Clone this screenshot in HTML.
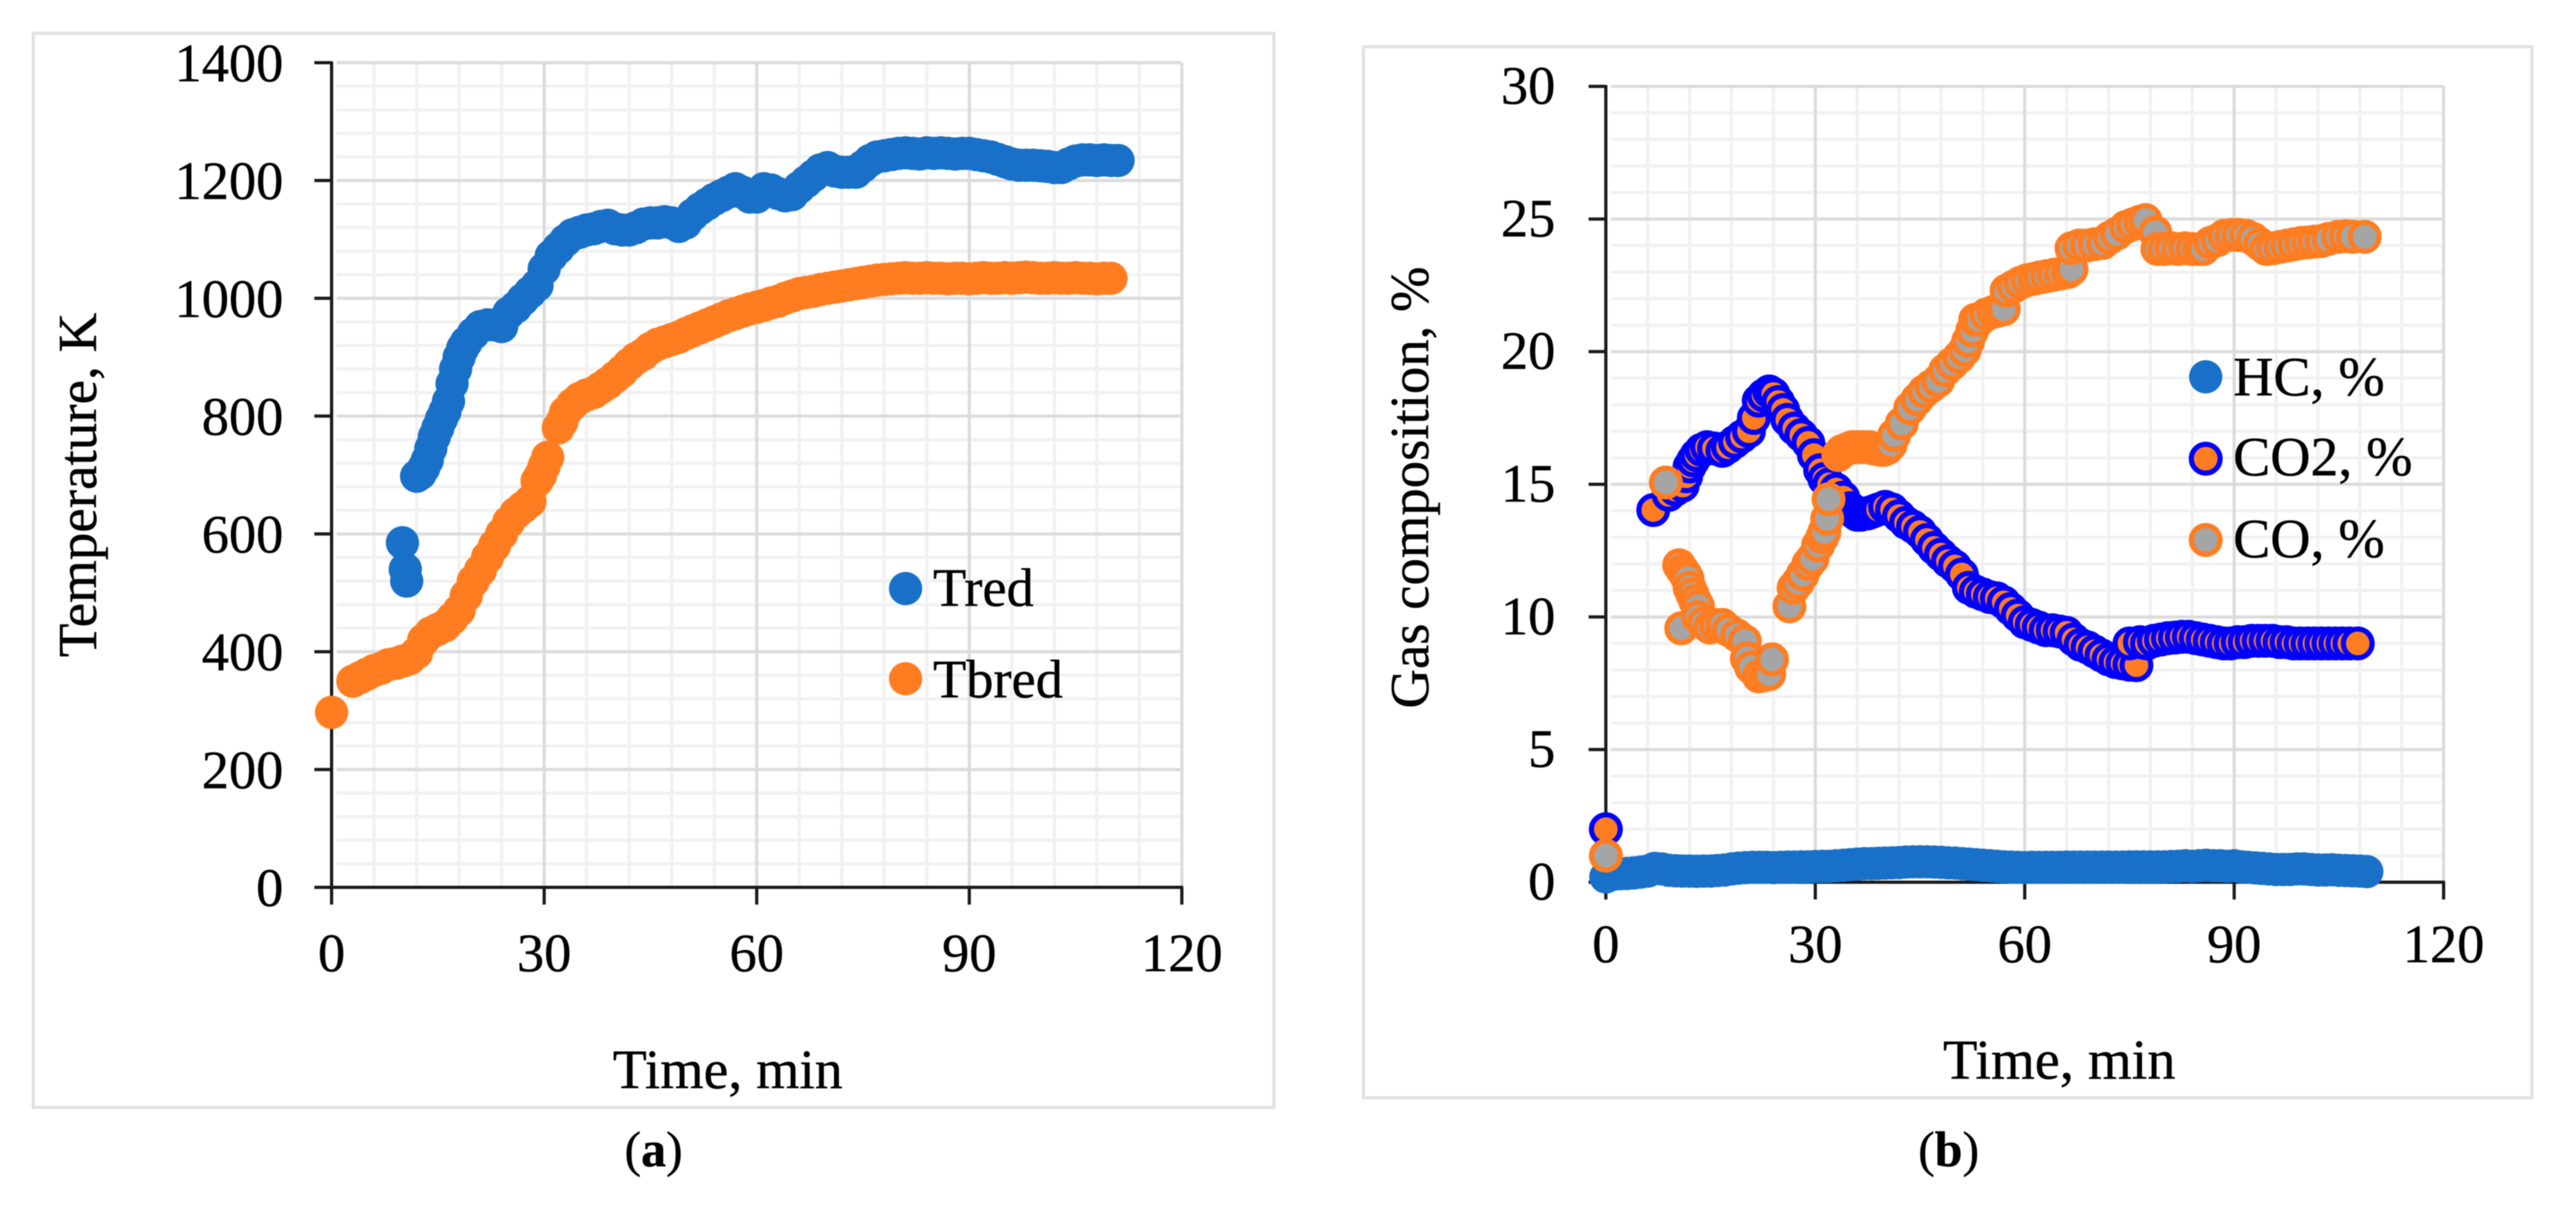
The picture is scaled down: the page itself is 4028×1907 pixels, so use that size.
<!DOCTYPE html>
<html lang="en">
<head>
<meta charset="utf-8">
<title>Temperature and gas composition over time</title>
<style>
html,body{margin:0;padding:0;background:#fff;width:4028px;height:1907px;overflow:hidden}
svg{display:block;font-family:"Liberation Serif",serif;fill:#000;filter:blur(0.9px)}
text{stroke:#000;stroke-width:.6px}
</style>
</head>
<body>
<svg id="fig" xmlns="http://www.w3.org/2000/svg" width="4028" height="1907" viewBox="0 0 4028 1907">
  <rect x="0" y="0" width="4028" height="1907" fill="#ffffff"/>
  <g id="chartA">
    <rect x="52" y="52" width="1940" height="1679" fill="#ffffff" stroke="#e2e2e2" stroke-width="5"/>
    <g id="gridA"></g>
    <g id="axesA"></g>
    <g id="marksA"></g>
    <text transform="translate(150,758) rotate(-90)" text-anchor="middle" font-size="86">Temperature, K</text>
    <text x="1138" y="1701" text-anchor="middle" font-size="87">Time, min</text>
    <g>
      <circle cx="1416" cy="920" r="26" fill="#1870c8"/>
      <text x="1459" y="947" font-size="85">Tred</text>
    </g>
    <g>
      <circle cx="1416" cy="1061" r="26" fill="#ff7d20"/>
      <text x="1459" y="1090" font-size="85">Tbred</text>
    </g>
    <text x="1022" y="1823" text-anchor="middle" font-size="78">(<tspan font-weight="bold">a</tspan>)</text>
  </g>
  <g id="chartB">
    <rect x="2132" y="73" width="1827" height="1643" fill="#ffffff" stroke="#e2e2e2" stroke-width="5"/>
    <g id="gridB"></g>
    <g id="axesB"></g>
    <g id="marksB"></g>
    <text transform="translate(2233,762) rotate(-90)" text-anchor="middle" font-size="85.5">Gas composition, %</text>
    <text x="3220" y="1686" text-anchor="middle" font-size="88">Time, min</text>
    <g>
      <circle cx="3449" cy="589" r="26" fill="#1870c8"/>
      <text x="3492" y="618" font-size="87">HC, %</text>
    </g>
    <g>
      <circle cx="3449" cy="717" r="22.5" fill="#ff7d20" stroke="#0000ff" stroke-width="8"/>
      <text x="3492" y="743" font-size="87">CO2, %</text>
    </g>
    <g>
      <circle cx="3449" cy="844" r="22.5" fill="#a5a5a5" stroke="#ff7d20" stroke-width="8"/>
      <text x="3492" y="871" font-size="87">CO, %</text>
    </g>
    <text x="3047" y="1823" text-anchor="middle" font-size="78">(<tspan font-weight="bold">b</tspan>)</text>
  </g>
</svg>
<script>
/* ---------- chart (a) data ---------- */
const timeTicksA = [0, 30, 60, 90, 120];
const tempTicks = [0, 200, 400, 600, 800, 1000, 1200, 1400];
const tredTime = [10,10.4,10.6,12,12.5,13,13.5,14,14.5,15,15.5,16,16.5,17,17.5,18,18.5,19,20,21,22,23,24,25,26,27,28,29,30,31,32,33,34,35,36,37,38,39,40,41,42,43,44,45,46,47,48,49,50,51,52,53,54,55,56,57,58,59,60,61,62,63,64,65,66,67,68,69,70,71,72,73,74,75,76,77,78,79,80,81,82,83,84,85,86,87,88,89,90,91,92,93,94,95,96,97,98,99,100,101,102,103,104,105,106,107,108,109,110,111];
const tredValues = [585,540,520,698,702,712,725,745,765,780,795,808,825,855,880,900,915,925,940,952,955,955,952,975,985,998,1010,1022,1050,1072,1085,1098,1108,1112,1116,1118,1122,1124,1118,1116,1116,1120,1126,1128,1128,1130,1128,1122,1128,1142,1152,1160,1168,1174,1180,1186,1180,1172,1172,1186,1184,1178,1174,1176,1188,1198,1208,1218,1222,1216,1214,1214,1214,1224,1234,1240,1242,1244,1246,1247,1246,1245,1247,1246,1247,1246,1245,1246,1246,1244,1242,1240,1236,1232,1228,1226,1226,1226,1225,1224,1222,1222,1228,1233,1235,1235,1234,1235,1234,1234];
const tbredTime = [0,3,4,5,6,7,8,9,10,11,12,13,14,15,16,17,18,19,20,21,22,23,24,25,26,27,28,29,29.5,30,30.5,32,32.5,33,34,35,36,37,38,39,40,41,42,43,44,45,46,47,48,49,50,51,52,53,54,55,56,57,58,59,60,61,62,63,64,65,66,67,68,69,70,71,72,73,74,75,76,77,78,79,80,81,82,83,84,85,86,87,88,89,90,91,92,93,94,95,96,97,98,99,100,101,102,103,104,105,106,107,108,109,110];
const tbredValues = [297,350,356,362,368,372,378,380,384,388,398,420,432,438,444,456,470,495,520,538,560,580,600,620,635,645,655,690,700,715,730,780,790,806,820,830,836,840,848,856,866,876,888,898,905,915,922,926,930,934,940,945,950,955,960,965,970,974,978,982,985,988,992,995,1000,1004,1008,1010,1012,1015,1017,1019,1021,1023,1025,1027,1029,1031,1032,1033,1034,1035,1034,1034,1035,1034,1034,1033,1034,1034,1033,1034,1035,1034,1034,1035,1034,1035,1036,1035,1034,1034,1035,1034,1034,1035,1034,1034,1033,1034,1034,1034,1034];

/* ---------- chart (b) data ---------- */
const timeTicksB = [0, 30, 60, 90, 120];
const gasTicks = [0, 5, 10, 15, 20, 25, 30];
const hcTime = [0,1,2,3,4,5,6,7,8,9,10,11,12,13,14,15,16,17,18,19,20,21,22,23,24,25,26,27,28,29,30,31,32,33,34,35,36,37,38,39,40,41,42,43,44,45,46,47,48,49,50,51,52,53,54,55,56,57,58,59,60,61,62,63,64,65,66,67,68,69,70,71,72,73,74,75,76,77,78,79,80,81,82,83,84,85,86,87,88,89,90,91,92,93,94,95,96,97,98,99,100,101,102,103,104,105,106,107,108,109];
const hcValues = [0.2,0.3,0.32,0.33,0.35,0.38,0.42,0.52,0.5,0.45,0.43,0.42,0.42,0.41,0.42,0.42,0.44,0.46,0.5,0.53,0.55,0.56,0.56,0.56,0.55,0.56,0.57,0.57,0.58,0.58,0.59,0.6,0.6,0.62,0.64,0.66,0.68,0.7,0.7,0.71,0.72,0.73,0.74,0.76,0.77,0.77,0.77,0.76,0.75,0.73,0.72,0.7,0.68,0.66,0.64,0.62,0.6,0.58,0.57,0.56,0.55,0.56,0.56,0.56,0.56,0.56,0.57,0.57,0.57,0.57,0.57,0.57,0.57,0.57,0.57,0.58,0.58,0.58,0.58,0.58,0.58,0.59,0.6,0.62,0.6,0.62,0.64,0.62,0.62,0.6,0.62,0.58,0.56,0.54,0.52,0.5,0.48,0.48,0.48,0.5,0.5,0.48,0.46,0.46,0.47,0.45,0.44,0.43,0.42,0.4];
const co2Time = [0,6.8,9,10,11,11.5,12,12.5,13,13.7,14.5,15.5,16.7,17.5,18.5,19.5,20.5,21.2,21.9,22.6,23.4,24,24.7,25.4,26,27,28,29,29.8,30.7,31.3,32,33,34,35,35.5,36,36.5,37,37.5,38,38.5,39,40,41,42,43,44,45,46,47,48,49,50,51,52,53,54,55,56,57,58,59,60,61,62,63,64,65,66,67,68,69,70,71,72,73,74,75,76,75,76.5,77.5,78.5,79.5,80.5,81.5,82.5,83.5,84.5,85.5,86.5,87.5,88.5,89.5,90.5,91.5,92.5,93.5,94.5,95.5,96.5,97.5,98.5,99.5,100.5,101.5,102.5,103.5,104.5,105.5,106.5,107.7];
const co2Values = [2,14.03,14.6,14.8,14.95,15.3,15.67,15.9,16.1,16.3,16.4,16.35,16.26,16.4,16.6,16.8,17,17.5,18.15,18.35,18.5,18.4,18.1,17.8,17.43,17.1,16.85,16.56,16.1,15.53,15.2,15,14.8,14.5,14.1,13.95,13.85,13.85,13.9,13.9,13.95,14,14.05,14.15,14.05,13.8,13.55,13.4,13.2,12.9,12.6,12.35,12.1,11.9,11.6,11.1,10.95,10.85,10.75,10.7,10.55,10.3,10.05,9.8,9.7,9.6,9.5,9.5,9.45,9.4,9.15,8.95,8.85,8.7,8.55,8.4,8.3,8.25,8.2,8.18,9,9.05,9,9.1,9.15,9.2,9.22,9.25,9.25,9.2,9.15,9.1,9.05,9,9,9.05,9.05,9.1,9.1,9.1,9.1,9.05,9.05,9,9,9,9,9,9,9,9,9,9];
const coTime = [0,8.6,10.8,10.5,11,11.4,11.7,12,12.4,12.8,13.2,13.2,14,14.9,15.8,16.7,17.6,18.8,19.9,20.2,20.8,21.9,22.7,23.4,23.8,26.3,26.9,27.5,28.2,29,29.6,30.4,31,31.3,31.7,31.9,33.3,33.8,34.3,34.8,35.3,35.8,36.3,36.8,37.3,37.8,38.3,38.8,39.3,39.8,40.3,40.8,41.3,42.4,43.6,44.6,45.6,46.6,47.6,48.6,49.6,50.6,51.4,51.9,52.5,52.9,53.5,54.5,55.5,56.3,57,57.4,58.4,59.4,60.4,61.4,62.2,63.2,64.2,65.2,66.2,66.7,66.7,67.8,68.9,70,71.2,72.2,73.2,74.5,75.5,76.5,77.3,78.7,79,80,81,82,83,84,85,85.6,86.6,87.6,88.6,89.6,90.6,91.7,92.7,93.7,94.6,95.6,96.6,97.6,98.6,99.6,100.6,101.5,102.5,103.5,104.9,106,107,108.7];
const coValues = [1,15.07,9.57,11.95,11.75,11.6,11.45,11.1,10.85,10.6,10.4,10,9.76,9.6,9.7,9.7,9.5,9.3,9.09,8.44,8.1,7.76,7.8,7.84,8.4,10.4,11.1,11.3,11.6,12,12.2,12.7,13,13.2,13.7,14.44,16.1,16.25,16.3,16.35,16.4,16.4,16.4,16.4,16.4,16.4,16.35,16.35,16.3,16.3,16.35,16.5,16.85,17.3,17.87,18.2,18.5,18.7,18.9,19.3,19.55,19.8,20.06,20.4,20.8,21.2,21.2,21.4,21.5,21.55,21.6,22.3,22.45,22.6,22.7,22.75,22.8,22.85,22.9,22.95,23,23.1,23.9,24,24,24.05,24.1,24.3,24.45,24.7,24.8,24.9,24.96,24.5,23.87,23.87,23.9,23.87,23.9,23.87,23.87,23.87,24.1,24.2,24.37,24.4,24.4,24.37,24.25,24.05,23.87,23.9,23.95,24,24.05,24.1,24.12,24.15,24.17,24.25,24.33,24.35,24.33,24.33];

const SVGNS = 'http://www.w3.org/2000/svg';
function make(tag, parent, attrs) {
  const el = document.createElementNS(SVGNS, tag);
  for (const k in attrs) el.setAttribute(k, attrs[k]);
  parent.appendChild(el);
  return el;
}

/* axis functions */
function axisX(d0, d1, p0, p1) { return function (v) { return p0 + (v - d0) * (p1 - p0) / (d1 - d0); }; }
function axisY(d0, d1, p0, p1) { return function (v) { return p0 + (v - d0) * (p1 - p0) / (d1 - d0); }; }
const xA = axisX(0, 120, 518.5, 1848);
const yA = axisY(0, 1400, 1387, 98);
const xB = axisX(0, 120, 2511, 3821);
const yB = axisY(0, 30, 1379, 135);

function drawFrame(gridId, axesId, x, y, xTicks, yTicks, xLabelY, yLabelX, yLabelDy, chartKey) {
  const grid = document.getElementById(gridId);
  const axes = document.getElementById(axesId);
  const xStep = (xTicks[1] - xTicks[0]) / 5;
  const yStep = (yTicks[1] - yTicks[0]) / 5;
  const xMin = xTicks[0], xMax = xTicks[xTicks.length - 1];
  const yMin = yTicks[0], yMax = yTicks[yTicks.length - 1];
  for (let i = 1; i < (yMax - yMin) / yStep; i++) {
    if (i % 5 === 0) continue;
    const v = yMin + i * yStep;
    const el = make('line', grid, { x1: x(xMin) + 8, x2: x(xMax), y1: y(v), y2: y(v), stroke: '#f1f1f1', 'stroke-width': 5 });
    
    
  }
  for (let i = 1; i < (xMax - xMin) / xStep; i++) {
    if (i % 5 === 0) continue;
    const v = xMin + i * xStep;
    const el = make('line', grid, { x1: x(v), x2: x(v), y1: y(yMin), y2: y(yMax), stroke: '#f1f1f1', 'stroke-width': 5 });
    
    
  }
  yTicks.forEach(function (v) {
    if (v === yMin) return;
    const el = make('line', grid, { x1: x(xMin) + 8, x2: x(xMax), y1: y(v), y2: y(v), stroke: '#dcdcdc', 'stroke-width': 5 });
    
    
  });
  xTicks.forEach(function (v) {
    if (v === xMin) return;
    const el = make('line', grid, { x1: x(v), x2: x(v), y1: y(yMin), y2: y(yMax), stroke: '#dcdcdc', 'stroke-width': 5 });
    
    
  });
  const ax = make('line', axes, { x1: x(xMin), x2: x(xMax) + 2, y1: y(yMin), y2: y(yMin), stroke: '#1a1a1a', 'stroke-width': 5 });
  
  
  const ay = make('line', axes, { x1: x(xMin), x2: x(xMin), y1: y(yMax) - 2, y2: y(yMin), stroke: '#1a1a1a', 'stroke-width': 5 });
  
  
  xTicks.forEach(function (v) {
    const t = make('line', axes, { x1: x(v), x2: x(v), y1: y(yMin), y2: y(yMin) + 27, stroke: '#1a1a1a', 'stroke-width': 5 });
    
    
    const l = make('text', axes, { x: x(v), y: xLabelY, 'text-anchor': 'middle', 'font-size': 85 });
    
    
    l.textContent = String(v);
  });
  yTicks.forEach(function (v) {
    const t = make('line', axes, { x1: x(xMin) - 27, x2: x(xMin), y1: y(v), y2: y(v), stroke: '#1a1a1a', 'stroke-width': 5 });
    
    
    const l = make('text', axes, { x: yLabelX, y: y(v) + yLabelDy, 'text-anchor': 'end', 'font-size': 85 });
    
    
    l.textContent = String(v);
  });
}

function drawSeries(parentId, seriesName, x, y, times, values, r, fill, stroke, strokeWidth) {
  const parent = document.getElementById(parentId);
  const g = make('g', parent, {});
  
  
  times.forEach(function (t, i) {
    const c = make('circle', g, { cx: x(t), cy: y(values[i]), r: r, fill: fill, stroke: stroke, 'stroke-width': strokeWidth });
    
    
  });
}

drawFrame('gridA', 'axesA', xA, yA, timeTicksA, tempTicks, 1518, 443, 29, 'chart-a');
drawFrame('gridB', 'axesB', xB, yB, timeTicksB, gasTicks, 1504, 2432, 27, 'chart-b');

drawSeries('marksA', 'tred', xA, yA, tredTime, tredValues, 26, '#1870c8', 'none', 0);
drawSeries('marksA', 'tbred', xA, yA, tbredTime, tbredValues, 26, '#ff7d20', 'none', 0);

drawSeries('marksB', 'hc', xB, yB, hcTime, hcValues, 26, '#1870c8', 'none', 0);
drawSeries('marksB', 'co2', xB, yB, co2Time, co2Values, 22.5, '#ff7d20', '#0000ff', 8);
drawSeries('marksB', 'co', xB, yB, coTime, coValues, 22.5, '#a5a5a5', '#ff7d20', 8);
</script>
</body>
</html>
